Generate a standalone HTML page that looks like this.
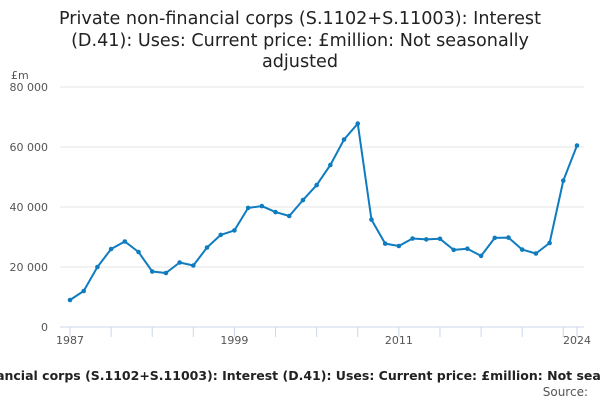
<!DOCTYPE html>
<html><head><meta charset="utf-8"><style>
body{margin:0;width:600px;height:400px;overflow:hidden;background:#fff;font-family:"Liberation Sans","DejaVu Sans",sans-serif;}
svg text{font-family:"DejaVu Sans","Liberation Sans",sans-serif;}
</style></head><body>
<svg width="600" height="400">
<g font-size="17.6" fill="#222" text-anchor="middle">
<text x="300" y="24">Private non-financial corps (S.1102+S.11003): Interest</text>
<text x="300" y="46">(D.41): Uses: Current price: £million: Not seasonally</text>
<text x="300" y="67">adjusted</text>
</g>
<text x="11" y="79" font-size="11" fill="#555">£m</text>
<g id="grid"></g><g id="xax"></g><g id="series"></g>
<text x="304" y="380" font-size="12.5" font-weight="bold" fill="#222" text-anchor="middle">Private non-financial corps (S.1102+S.11003): Interest (D.41): Uses: Current price: £million: Not seasonally adjusted</text>
<text x="588" y="396" font-size="12" fill="#555" text-anchor="end">Source:</text>
</svg>
<script>
const years=[1987,1988,1989,1990,1991,1992,1993,1994,1995,1996,1997,1998,1999,2000,2001,2002,2003,2004,2005,2006,2007,2008,2009,2010,2011,2012,2013,2014,2015,2016,2017,2018,2019,2020,2021,2022,2023,2024];
const values=[9000,12000,20000,26000,28500,25000,18500,18000,21500,20500,26500,30700,32200,39700,40300,38300,37000,42300,47300,54000,62500,67800,35800,27800,27000,29500,29200,29400,25700,26100,23700,29700,29800,25800,24500,28000,48800,60500];
const yTicks=[0,20000,40000,60000,80000];
const yTickLabels=["0","20 000","40 000","60 000","80 000"];
const xLabels=[1987,1999,2011,2024];
const NS="http://www.w3.org/2000/svg";
const X0=70,X1=577,Y0=327,Y1=87;
const x=v=>X0+(v-1987)/(2024-1987)*(X1-X0);
const y=v=>Y0-v/80000*(Y0-Y1);
function mk(t,a,p){const e=document.createElementNS(NS,t);for(const k in a)e.setAttribute(k,a[k]);p.appendChild(e);return e;}
const grid=document.getElementById('grid');
yTicks.forEach((t,i)=>{
 const l=mk('line',{x1:60,x2:584,y1:y(t),y2:y(t),stroke:t===0?'#ccd6eb':'#e6e6e6','stroke-width':1},grid);
 
 
 const tx=mk('text',{x:48,y:y(t)+4,'font-size':11,fill:'#555','text-anchor':'end'},grid);
 tx.textContent=yTickLabels[i];
 
 
});
const xax=document.getElementById('xax');
for(let yr=1987;yr<=2024;yr+=3){
 const t=mk('line',{x1:x(yr),x2:x(yr),y1:Y0,y2:Y0+10,stroke:'#ccd6eb'},xax);
 
 
}
const te=mk('line',{x1:x(2024),x2:x(2024),y1:Y0,y2:Y0+10,stroke:'#ccd6eb'},xax);


xLabels.forEach(yr=>{
 const tx=mk('text',{x:x(yr),y:Y0+17,'font-size':11,fill:'#555','text-anchor':'middle'},xax);
 tx.textContent=yr;
 
 
});
const s=document.getElementById('series');
const path=mk('polyline',{points:years.map((yr,i)=>x(yr)+','+y(values[i])).join(' '),fill:'none',stroke:'#0f7cbf','stroke-width':2,'stroke-linejoin':'round'},s);


years.forEach((yr,i)=>{
 const c=mk('circle',{cx:x(yr),cy:y(values[i]),r:2.3,fill:'#0f7cbf'},s);
 
 
});
</script>
</body></html>
